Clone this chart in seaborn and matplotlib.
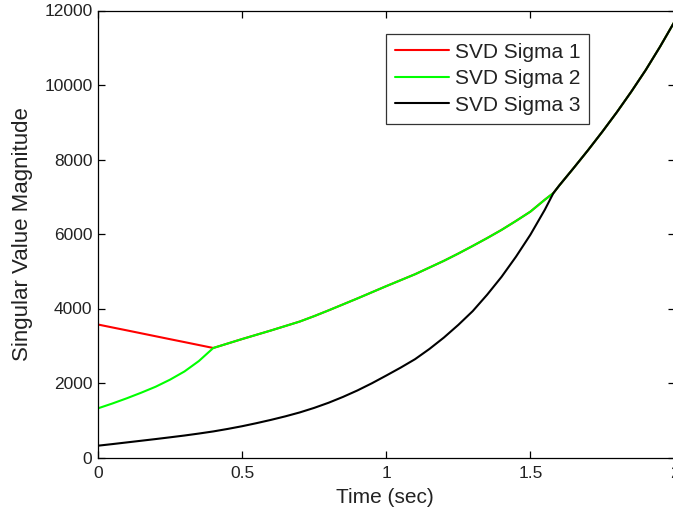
import numpy as np
import pandas as pd
import matplotlib
matplotlib.use("Agg")
import matplotlib.pyplot as plt
import seaborn as sns

# ---- data ----
time = [0.0, 0.05, 0.1, 0.15, 0.2, 0.25, 0.3, 0.35, 0.4, 0.45, 0.5, 0.55,
        0.6, 0.65, 0.7, 0.75, 0.8, 0.85, 0.9, 0.95, 1.0, 1.05, 1.1, 1.15,
        1.2, 1.25, 1.3, 1.35, 1.4, 1.45, 1.5, 1.55, 1.58, 1.6, 1.65, 1.7,
        1.75, 1.8, 1.85, 1.9, 1.95, 2.0]
sigma1 = [3570, 3491, 3413, 3334, 3255, 3176, 3098, 3019, 2940, 3060, 3180, 3295,
          3410, 3530, 3650, 3795, 3950, 4110, 4270, 4435, 4600, 4760, 4920, 5100,
          5280, 5475, 5680, 5890, 6110, 6350, 6600, 6920, 7100, 7300, 7770, 8250,
          8750, 9270, 9820, 10400, 11030, 11700]
sigma2 = [1320, 1450, 1590, 1740, 1900, 2090, 2310, 2590, 2940, 3060, 3180, 3295,
          3410, 3530, 3650, 3795, 3950, 4110, 4270, 4435, 4600, 4760, 4920, 5100,
          5280, 5475, 5680, 5890, 6110, 6350, 6600, 6920, 7100, 7300, 7770, 8250,
          8750, 9270, 9820, 10400, 11030, 11700]
sigma3 = [317, 360, 405, 450, 495, 542, 590, 643, 700, 767, 840, 922,
          1010, 1105, 1210, 1332, 1470, 1627, 1800, 1992, 2200, 2413, 2640, 2915,
          3220, 3560, 3930, 4370, 4850, 5390, 5980, 6650, 7100, 7300, 7770, 8250,
          8750, 9270, 9820, 10400, 11030, 11700]
series_names = ["SVD Sigma 1", "SVD Sigma 2", "SVD Sigma 3"]
series_colors = ["#ff0000", "#00ff00", "#000000"]
xticks = [0, 0.5, 1, 1.5, 2]
xtick_labels = ["0", "0.5", "1", "1.5", "2"]
yticks = [0, 2000, 4000, 6000, 8000, 10000, 12000]

df = pd.concat([
    pd.DataFrame({"Time": time, "Value": vals, "Series": name})
    for name, vals in zip(series_names, [sigma1, sigma2, sigma3])
], ignore_index=True)

sns.set_style("white")
plt.rcParams["font.family"] = ["Liberation Sans", "DejaVu Sans"]

fig = plt.figure(figsize=(6.73, 5.16), dpi=100)
ax = fig.add_axes([98 / 673, 1 - 457.5 / 516, 576.5 / 673, 447 / 516])

sns.lineplot(data=df, x="Time", y="Value", hue="Series",
             hue_order=series_names, palette=series_colors,
             linewidth=1.5, errorbar=None, sort=False, ax=ax)

ax.set_xlim(0, 2)
ax.set_ylim(0, 12000)
ax.set_xticks(xticks)
ax.set_xticklabels(xtick_labels)
ax.set_yticks(yticks)
ax.set_yticklabels([str(v) for v in yticks])

for s in ax.spines.values():
    s.set_color("black")
    s.set_linewidth(0.9)
    s.set_visible(True)

ax.tick_params(axis="both", which="major", direction="in", length=5,
               width=0.9, color="black", labelsize=12.5, labelcolor="#222222",
               top=True, right=True, bottom=True, left=True)
ax.tick_params(axis="x", pad=6)
ax.tick_params(axis="y", pad=4)

ax.set_xlabel("Time (sec)", fontsize=15, color="#222222")
ax.set_ylabel("Singular Value Magnitude", fontsize=16, color="#222222")
ax.xaxis.set_label_coords((385 - 98) / 576.5, -0.068)
ax.yaxis.set_label_coords(-0.113, 0.5)

leg = ax.legend(loc="upper left", bbox_to_anchor=(386 / 673, 1 - 34 / 516),
                bbox_transform=fig.transFigure, fontsize=15, frameon=True,
                fancybox=False, handlelength=2.6, handletextpad=0.3,
                borderpad=0.42, labelspacing=0.36, borderaxespad=0.0)
leg.get_frame().set_edgecolor("black")
leg.get_frame().set_linewidth(0.9)
for line in leg.get_lines():
    line.set_linewidth(1.5)
for t in leg.get_texts():
    t.set_color("#222222")

fig.savefig("out.png", dpi=100)
